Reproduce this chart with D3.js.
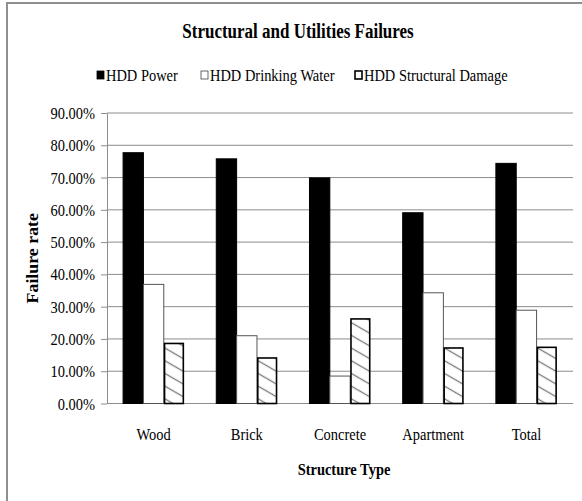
<!DOCTYPE html>
<html>
<head>
<meta charset="utf-8">
<script src="https://cdn.jsdelivr.net/npm/d3@7"></script>
<style>
  html, body { margin: 0; padding: 0; background: #fff; }
  svg { display: block; }
</style>
</head>
<body>
<svg id="chart" width="582" height="501"></svg>
<script>
// Chart data
const categories = ["Wood", "Brick", "Concrete", "Apartment", "Total"];
const seriesNames = ["HDD Power", "HDD Drinking Water", "HDD Structural Damage"];
const powerValues = [0.777, 0.758, 0.699, 0.591, 0.744];
const waterValues = [0.369, 0.210, 0.085, 0.343, 0.289];
const structuralValues = [0.186, 0.141, 0.262, 0.172, 0.174];
const yTicks = [0, 0.1, 0.2, 0.3, 0.4, 0.5, 0.6, 0.7, 0.8, 0.9];

const seriesValues = [powerValues, waterValues, structuralValues];

const W = 582, H = 501;
const margin = { left: 107, right: 9, top: 113, bottom: 97.5 };
const squeeze = 0.85; // narrow, tall serif lettering
const SERIF = "'Liberation Serif', 'Times New Roman', Times, serif";

const svg = d3.select("#chart");

// hatch pattern for the structural-damage series
const defs = svg.append("defs");
const pat = defs.append("pattern")
  .attr("id", "hatch")
  .attr("patternUnits", "userSpaceOnUse")
  .attr("width", 10).attr("height", 11)
  .attr("patternTransform", "rotate(30)");
pat.append("rect").attr("width", 10).attr("height", 11).attr("fill", "#fff");
pat.append("line")
  .attr("x1", 0).attr("x2", 10).attr("y1", 5.5).attr("y2", 5.5)
  .attr("stroke", "#7a7a7a").attr("stroke-width", 1.3);

// outer frame (top and left edges)
svg.append("path")
  .attr("d", `M7,${H} V3 H${W}`)
  .attr("fill", "none")
  .attr("stroke", "#8f8f8f")
  .attr("stroke-width", 2);

// helper: condensed serif text anchored at (x, y)
function label(parent, x, y, str, opts = {}) {
  return parent.append("text")
    .attr("transform", `translate(${x},${y}) scale(${opts.k ?? squeeze},1)`)
    .attr("text-anchor", opts.anchor || "start")
    .style("font-family", SERIF)
    .style("font-size", (opts.size || 17) + "px")
    .style("font-weight", opts.bold ? "bold" : "normal")
    .attr("fill", "#000")
    .text(str);
}

const x0 = d3.scaleBand()
  .domain(categories)
  .range([margin.left, W - margin.right])
  .paddingInner(0.345)
  .paddingOuter(0.1725);

const x1 = d3.scaleBand()
  .domain(d3.range(seriesNames.length))
  .range([0, x0.bandwidth()]);

const y = d3.scaleLinear()
  .domain([0, 0.9])
  .range([H - margin.bottom, margin.top]);

// gridlines
svg.append("g")
  .selectAll("line")
  .data(yTicks)
  .join("line")
  .attr("x1", margin.left).attr("x2", W - margin.right)
  .attr("y1", d => y(d)).attr("y2", d => y(d))
  .attr("stroke", "#8c8c8c")
  .attr("stroke-width", 1);

// y axis
const yAxis = svg.append("g")
  .attr("transform", `translate(${margin.left},0)`)
  .call(d3.axisLeft(y).tickValues(yTicks).tickFormat(d3.format(".2%")).tickSize(6).tickSizeOuter(0));
yAxis.attr("font-family", null).attr("font-size", null);
yAxis.select(".domain").attr("stroke", "#8c8c8c");
yAxis.selectAll(".tick line").attr("stroke", "#8c8c8c");
yAxis.selectAll(".tick text")
  .attr("x", null).attr("dy", null)
  .attr("transform", `translate(-12,5.5) scale(${squeeze},1)`)
  .attr("text-anchor", "end")
  .style("font-family", SERIF)
  .style("font-size", "17px")
  .attr("fill", "#000");

// bars
const barStyles = [
  { fill: "#000", stroke: "#000", sw: 1 },
  { fill: "#fff", stroke: "#555", sw: 1 },
  { fill: "url(#hatch)", stroke: "#000", sw: 1.6 }
];

const groups = svg.append("g")
  .selectAll("g")
  .data(categories)
  .join("g")
  .attr("transform", d => `translate(${x0(d)},0)`);

groups.selectAll("rect")
  .data((c, i) => seriesValues.map((vals, s) => ({ s, v: vals[i] })))
  .join("rect")
  .attr("x", d => x1(d.s) + (d.s === 2 ? 0.8 : 0))
  .attr("width", d => x1.bandwidth() - (d.s === 2 ? 1.6 : 0))
  .attr("y", d => y(d.v))
  .attr("height", d => y(0) - y(d.v))
  .attr("fill", d => barStyles[d.s].fill)
  .attr("stroke", d => barStyles[d.s].stroke)
  .attr("stroke-width", d => barStyles[d.s].sw);

// category labels
categories.forEach(c => {
  label(svg, x0(c) + x0.bandwidth() / 2, 440, c, { anchor: "middle" });
});

// title
label(svg, 298, 38, "Structural and Utilities Failures", { anchor: "middle", size: 20, bold: true });

// axis titles
label(svg, 344, 475, "Structure Type", { anchor: "middle", bold: true });
svg.append("text")
  .attr("transform", `translate(38,${(margin.top + H - margin.bottom) / 2}) rotate(-90) scale(1.05,1)`)
  .attr("text-anchor", "middle")
  .style("font-family", SERIF)
  .style("font-size", "17px")
  .style("font-weight", "bold")
  .attr("fill", "#000")
  .text("Failure rate");

// legend
const legendX = [97, 201, 355];
seriesNames.forEach((name, i) => {
  svg.append("rect")
    .attr("x", legendX[i]).attr("y", 71)
    .attr("width", 7).attr("height", 8)
    .attr("fill", i === 0 ? "#000" : "#fff")
    .attr("stroke", i === 1 ? "#444" : "#000")
    .attr("stroke-width", i === 2 ? 1.6 : 0.8);
  label(svg, legendX[i] + 9, 80.5, name, {});
});
</script>
</body>
</html>
